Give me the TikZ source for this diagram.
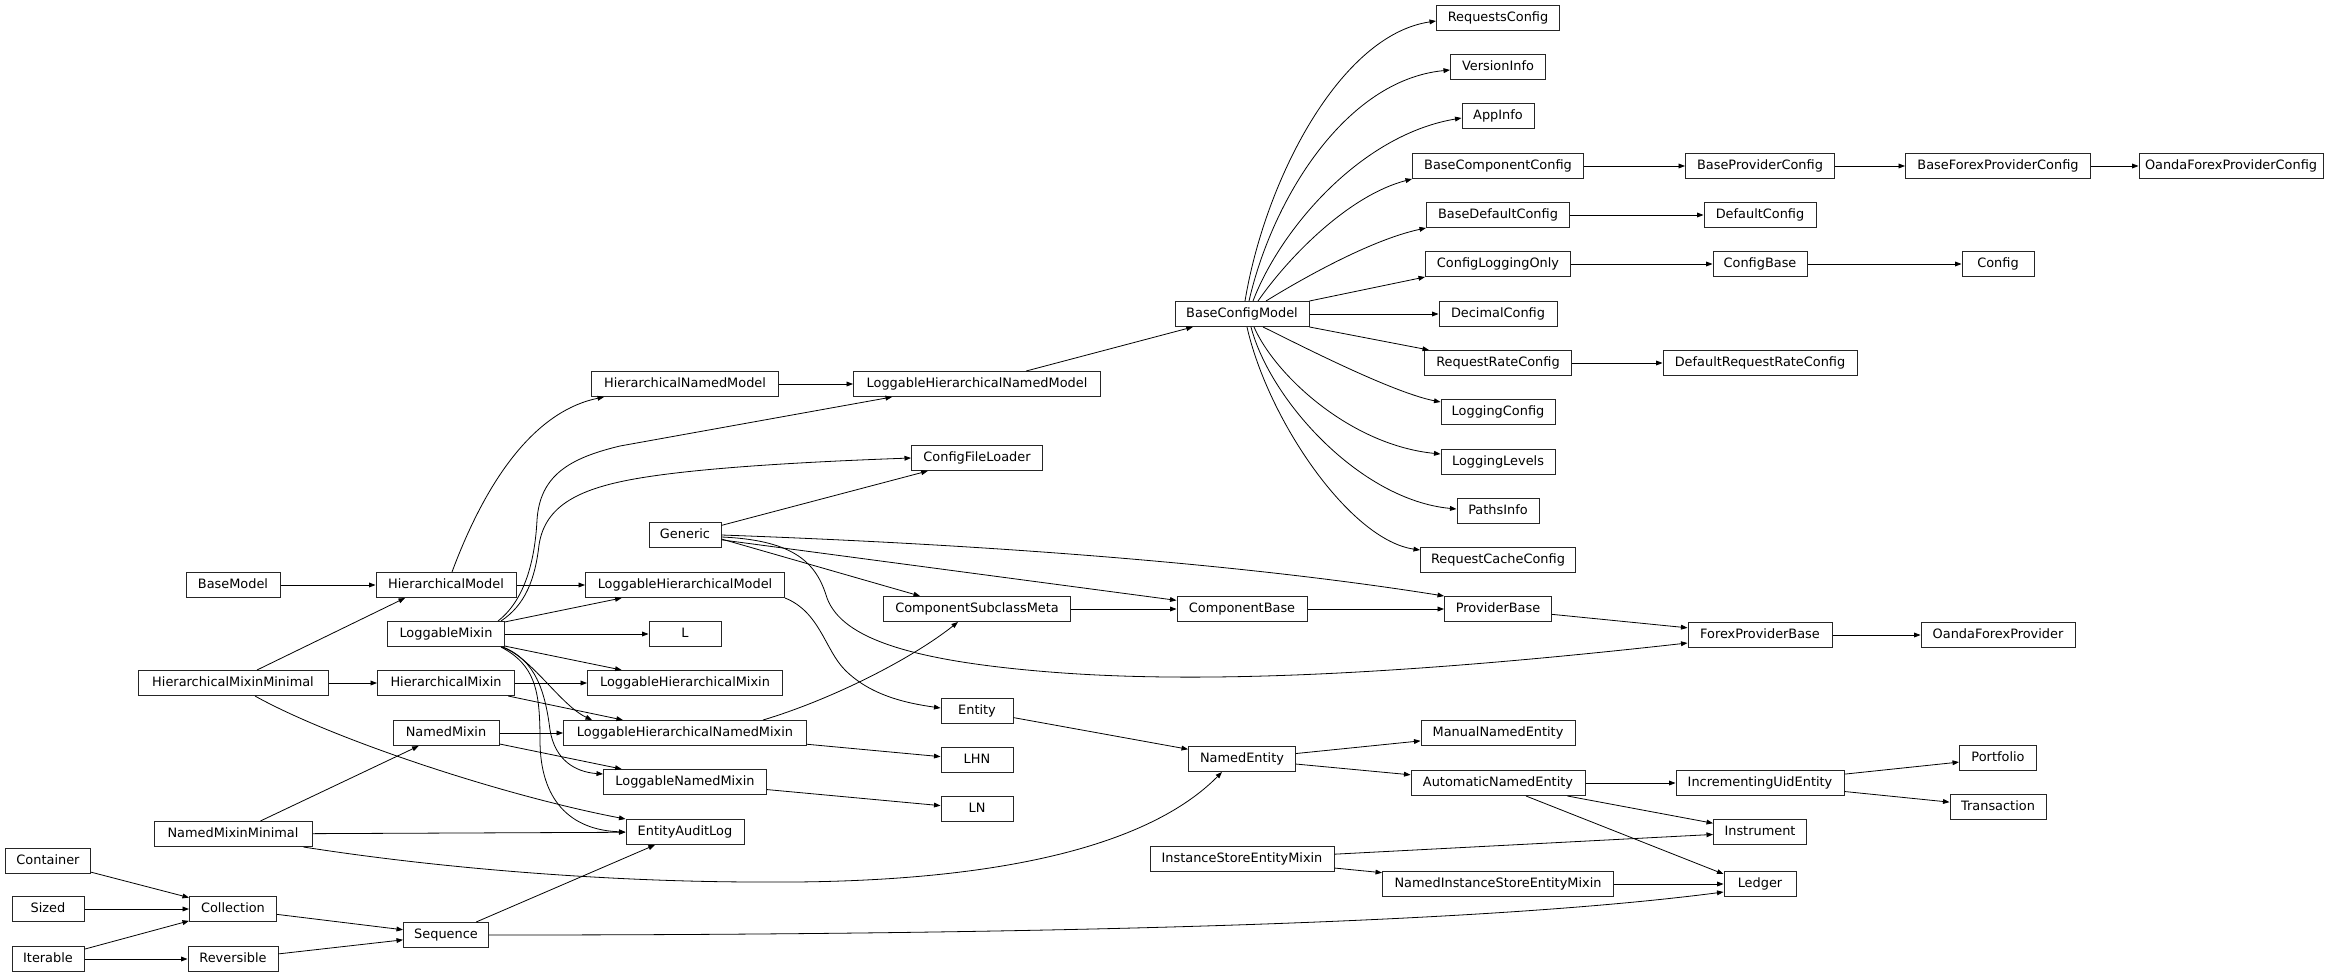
\documentclass[tikz,border=0pt]{standalone}
\usepackage{fontspec}
\setmainfont{DejaVu Sans}
\usetikzlibrary{arrows.meta}
\newcommand\mkcls[3]{\node[box,minimum width=#3pt] (#1) at (#2) {#1};}
\tikzset{
  box/.style={draw=black!85, line width=1pt, font=\fontsize{12.9}{15}\selectfont,
    inner xsep=0pt, inner ysep=0pt, minimum height=25pt, text height=9.6pt, text depth=2.6pt},
  edge/.style={-{Triangle[length=6.5pt,width=4.8pt]}, line width=0.8pt, black}
}
\begin{document}
\begin{tikzpicture}[x=1pt,y=-1pt]
\useasboundingbox (0,0) rectangle (2339,977);
% nodes
\mkcls{RequestsConfig}{1498,18}{123}
\mkcls{VersionInfo}{1498,67}{95}
\mkcls{AppInfo}{1498,116}{72}
\mkcls{BaseComponentConfig}{1498,166}{171}
\mkcls{BaseProviderConfig}{1760,166}{149}
\mkcls{BaseForexProviderConfig}{1998,166}{185}
\mkcls{OandaForexProviderConfig}{2231,166}{184}
\mkcls{BaseDefaultConfig}{1498,215}{143}
\mkcls{DefaultConfig}{1760,215}{112}
\mkcls{ConfigLoggingOnly}{1498,264}{145}
\mkcls{ConfigBase}{1760,264}{94}
\mkcls{Config}{1998,264}{72}
\mkcls{BaseConfigModel}{1242,314}{134}
\mkcls{DecimalConfig}{1498,314}{118}
\mkcls{RequestRateConfig}{1498,363}{147}
\mkcls{DefaultRequestRateConfig}{1760,363}{194}
\mkcls{HierarchicalNamedModel}{685,384}{187}
\mkcls{LoggableHierarchicalNamedModel}{977,384}{247}
\mkcls{LoggingConfig}{1498,412}{114}
\mkcls{ConfigFileLoader}{977,458}{131}
\mkcls{LoggingLevels}{1498,462}{114}
\mkcls{PathsInfo}{1498,511}{82}
\mkcls{Generic}{685,535}{72}
\mkcls{RequestCacheConfig}{1498,560}{155}
\mkcls{BaseModel}{233,585}{94}
\mkcls{HierarchicalModel}{446,585}{140}
\mkcls{LoggableHierarchicalModel}{685,585}{199}
\mkcls{ComponentSubclassMeta}{977,609}{187}
\mkcls{ComponentBase}{1242,609}{130}
\mkcls{ProviderBase}{1498,609}{107}
\mkcls{LoggableMixin}{446,634}{117}
\mkcls{L}{685,634}{72}
\mkcls{ForexProviderBase}{1760,635}{144}
\mkcls{OandaForexProvider}{1998,635}{154}
\mkcls{HierarchicalMixinMinimal}{233,683}{190}
\mkcls{HierarchicalMixin}{446,683}{137}
\mkcls{LoggableHierarchicalMixin}{685,683}{195}
\mkcls{Entity}{977,711}{72}
\mkcls{NamedMixin}{446,733}{106}
\mkcls{LoggableHierarchicalNamedMixin}{685,733}{243}
\mkcls{ManualNamedEntity}{1498,733}{154}
\mkcls{Portfolio}{1998,758}{77}
\mkcls{NamedEntity}{1242,759}{107}
\mkcls{LHN}{977,760}{72}
\mkcls{LoggableNamedMixin}{685,782}{163}
\mkcls{AutomaticNamedEntity}{1498,783}{174}
\mkcls{IncrementingUidEntity}{1760,783}{168}
\mkcls{Transaction}{1998,807}{96}
\mkcls{LN}{977,809}{72}
\mkcls{EntityAuditLog}{685,832}{118}
\mkcls{Instrument}{1760,832}{93}
\mkcls{NamedMixinMinimal}{233,834}{158}
\mkcls{InstanceStoreEntityMixin}{1242,859}{184}
\mkcls{Container}{48,861}{85}
\mkcls{NamedInstanceStoreEntityMixin}{1498,884}{231}
\mkcls{Ledger}{1760,884}{72}
\mkcls{Sized}{48,909}{72}
\mkcls{Collection}{233,909}{87}
\mkcls{Sequence}{446,935}{85}
\mkcls{Iterable}{48,959}{72}
\mkcls{Reversible}{233,959}{90}
% edges: collections
\draw[edge] (Container) -- (Collection);
\draw[edge] (Sized) -- (Collection);
\draw[edge] (Iterable) -- (Collection);
\draw[edge] (Iterable) -- (Reversible);
\draw[edge] (Collection) -- (Sequence);
\draw[edge] (Reversible) -- (Sequence);
\draw[edge] (Sequence) -- (EntityAuditLog);
\draw[edge] (Sequence.east) .. controls (1100,935) and (1500,921) .. ([yshift=-8pt]Ledger.west);
% models / mixins
\draw[edge] (BaseModel) -- (HierarchicalModel);
\draw[edge] ([xshift=24pt]HierarchicalMixinMinimal.north) -- ([xshift=-41pt]HierarchicalModel.south);
\draw[edge] (HierarchicalMixinMinimal) -- (HierarchicalMixin);
\draw[edge] ([xshift=22pt]HierarchicalMixinMinimal.south) .. controls (330,738) and (500,795) .. (EntityAuditLog.north west);
\draw[edge] (NamedMixinMinimal) -- (NamedMixin);
\draw[edge] (NamedMixinMinimal) -- (EntityAuditLog);
\draw[edge] ([xshift=-9pt]NamedMixinMinimal.south east) .. controls (450,870) and (620,882) .. (760,882) .. controls (1000,884) and (1150,845) .. ([xshift=-20pt]NamedEntity.south);
\draw[edge] ([xshift=6pt]HierarchicalModel.north) .. controls (490,470) and (540,410) .. ([xshift=13pt]HierarchicalNamedModel.south west);
\draw[edge] (HierarchicalModel) -- (LoggableHierarchicalModel);
\draw[edge] (HierarchicalNamedModel) -- (LoggableHierarchicalNamedModel);
\draw[edge] (LoggableHierarchicalNamedModel) -- (BaseConfigModel);
\draw[edge] ([xshift=-7pt]LoggableMixin.north east) .. controls (525,600) and (535,560) .. (537,520) .. controls (540,475) and (570,458) .. (620,446) -- ([xshift=39pt]LoggableHierarchicalNamedModel.south west);
\draw[edge] ([xshift=-4pt]LoggableMixin.north east) .. controls (525,605) and (535,580) .. (539,545) .. controls (545,505) and (580,488) .. (640,478) .. controls (700,468) and (800,462) .. (ConfigFileLoader.west);
\draw[edge] (LoggableMixin) -- (LoggableHierarchicalModel);
\draw[edge] (LoggableMixin) -- (L);
\draw[edge] (LoggableMixin) -- (LoggableHierarchicalMixin);
\draw[edge] ([xshift=-4pt]LoggableMixin.south east) .. controls (530,655) and (560,705) .. ([xshift=29pt]LoggableHierarchicalNamedMixin.north west);
\draw[edge] ([xshift=-2pt]LoggableMixin.south east) .. controls (535,660) and (545,690) .. (550,730) .. controls (555,760) and (575,772) .. ([yshift=-5pt]LoggableNamedMixin.north west);
\draw[edge] ([xshift=-4pt]LoggableMixin.south east) .. controls (535,665) and (540,690) .. (540,740) .. controls (540,800) and (570,830) .. (EntityAuditLog.west);
\draw[edge] (HierarchicalMixin) -- (LoggableHierarchicalMixin);
\draw[edge] (HierarchicalMixin) -- (LoggableHierarchicalNamedMixin);
\draw[edge] (NamedMixin) -- (LoggableHierarchicalNamedMixin);
\draw[edge] (NamedMixin) -- (LoggableNamedMixin);
% generic
\draw[edge] (Generic) -- (ConfigFileLoader);
\draw[edge] (Generic.east) .. controls (1000,545) and (1250,565) .. (ProviderBase.north west);
\draw[edge] (Generic) -- (ComponentBase);
\draw[edge] ([yshift=-4pt]Generic.east) -- ([xshift=-57pt]ComponentSubclassMeta.north);
\draw[edge] ([yshift=-2pt]Generic.east) .. controls (790,540) and (815,560) .. (826,595) .. controls (838,635) and (900,660) .. (1050,672) .. controls (1200,684) and (1400,675) .. ([yshift=-8pt]ForexProviderBase.west);
% entities
\draw[edge] (LoggableHierarchicalModel.south east) .. controls (820,612) and (825,650) .. (845,670) .. controls (870,695) and (905,703) .. ([yshift=3pt]Entity.west);
\draw[edge] ([xshift=-44pt]LoggableHierarchicalNamedMixin.north east) .. controls (830,700) and (910,660) .. ([xshift=-19pt]ComponentSubclassMeta.south);
\draw[edge] (LoggableHierarchicalNamedMixin) -- (LHN);
\draw[edge] (LoggableNamedMixin) -- (LN);
\draw[edge] (ComponentSubclassMeta) -- (ComponentBase);
\draw[edge] (ComponentBase) -- (ProviderBase);
\draw[edge] (ProviderBase) -- (ForexProviderBase);
\draw[edge] (ForexProviderBase) -- (OandaForexProvider);
\draw[edge] (Entity) -- (NamedEntity);
\draw[edge] (NamedEntity) -- (ManualNamedEntity);
\draw[edge] (NamedEntity) -- (AutomaticNamedEntity);
\draw[edge] (AutomaticNamedEntity) -- (IncrementingUidEntity);
\draw[edge] (AutomaticNamedEntity) -- (Instrument);
\draw[edge] ([xshift=28pt]AutomaticNamedEntity.south) -- ([yshift=-3pt]Ledger.north west);
\draw[edge] (IncrementingUidEntity) -- (Portfolio);
\draw[edge] (IncrementingUidEntity) -- (Transaction);
\draw[edge] (InstanceStoreEntityMixin) -- (Instrument);
\draw[edge] (InstanceStoreEntityMixin) -- (NamedInstanceStoreEntityMixin);
\draw[edge] (NamedInstanceStoreEntityMixin) -- (Ledger);
% config fan
\draw[edge] ([xshift=3pt]BaseConfigModel.north) .. controls (1265,180) and (1340,35) .. ([yshift=-3pt]RequestsConfig.west);
\draw[edge] ([xshift=7pt]BaseConfigModel.north) .. controls (1272,200) and (1345,80) .. ([yshift=-3pt]VersionInfo.west);
\draw[edge] ([xshift=11pt]BaseConfigModel.north) .. controls (1280,230) and (1360,135) .. ([yshift=-2pt]AppInfo.west);
\draw[edge] ([xshift=16pt]BaseConfigModel.north) .. controls (1290,255) and (1350,195) .. (BaseComponentConfig.south west);
\draw[edge] ([xshift=24pt]BaseConfigModel.north) .. controls (1300,280) and (1370,240) .. (BaseDefaultConfig.south west);
\draw[edge] (BaseConfigModel.north east) -- (ConfigLoggingOnly.south west);
\draw[edge] (BaseConfigModel) -- (DecimalConfig);
\draw[edge] (BaseConfigModel.south east) -- ([xshift=5pt]RequestRateConfig.north west);
\draw[edge] ([xshift=21pt]BaseConfigModel.south) .. controls (1290,340) and (1390,392) .. ([yshift=-3pt]LoggingConfig.north west);
\draw[edge] ([xshift=12pt]BaseConfigModel.south) .. controls (1275,375) and (1350,445) .. ([yshift=-5pt]LoggingLevels.north west);
\draw[edge] ([xshift=9pt]BaseConfigModel.south) .. controls (1270,400) and (1360,500) .. ([yshift=2pt]PathsInfo.west);
\draw[edge] ([xshift=5pt]BaseConfigModel.south) .. controls (1268,420) and (1350,540) .. ([yshift=-3pt]RequestCacheConfig.north west);
\draw[edge] (BaseComponentConfig) -- (BaseProviderConfig);
\draw[edge] (BaseProviderConfig) -- (BaseForexProviderConfig);
\draw[edge] (BaseForexProviderConfig) -- (OandaForexProviderConfig);
\draw[edge] (BaseDefaultConfig) -- (DefaultConfig);
\draw[edge] (ConfigLoggingOnly) -- (ConfigBase);
\draw[edge] (ConfigBase) -- (Config);
\draw[edge] (RequestRateConfig) -- (DefaultRequestRateConfig);
\end{tikzpicture}
\end{document}
